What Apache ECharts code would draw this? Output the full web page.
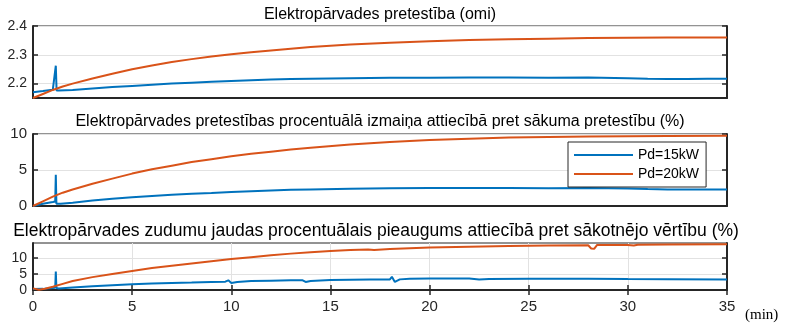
<!DOCTYPE html>
<html><head><meta charset="utf-8">
<script src="https://cdn.jsdelivr.net/npm/echarts@6/dist/echarts.min.js"></script>
<style>html,body{margin:0;padding:0;background:#fff}#c{width:787px;height:327px}</style>
</head><body><div id="c"></div>
<script>
// ---- text ----
const seriesNames = ['Pd=15kW', 'Pd=20kW'];
const panelTitles = [
  'Elektropārvades pretestība (omi)',
  'Elektropārvades pretestības procentuālā izmaiņa attiecībā pret sākuma pretestību (%)',
  'Elektropārvades zudumu jaudas procentuālais pieaugums attiecībā pret sākotnējo vērtību (%)'
];
const xUnit = '(min)';
// ---- ticks ----
const xTicks = [0, 5, 10, 15, 20, 25, 30, 35];
const rTicks = [2.2, 2.3, 2.4];
const pctTicks = [0, 5, 10];
const lossTicks = [0, 5, 10];

// ---- panel 1: resistance (ohm) ----
const tR15 = [0, 0.5, 1.0, 1.1, 1.15, 1.19, 1.3, 2, 3, 4, 5, 6, 7, 8, 9, 10, 11, 12, 13, 14, 16, 18, 20, 22, 24, 26, 28, 30, 31, 32, 33, 34, 35];
const vR15 = [2.170, 2.174, 2.179, 2.181, 2.262, 2.176, 2.176, 2.178, 2.183, 2.188, 2.192, 2.196, 2.200, 2.203, 2.206, 2.209, 2.212, 2.214, 2.216, 2.217, 2.219, 2.220, 2.220, 2.221, 2.221, 2.220, 2.221, 2.219, 2.217, 2.216, 2.216, 2.217, 2.217];
const tR20 = [0, 0.5, 1, 1.5, 2, 3, 4, 5, 6, 7, 8, 9, 10, 11, 12, 13, 14, 16, 18, 20, 22, 24, 26, 28, 30, 32, 35];
const vR20 = [2.150, 2.164, 2.178, 2.190, 2.200, 2.218, 2.234, 2.250, 2.263, 2.275, 2.285, 2.294, 2.302, 2.309, 2.315, 2.321, 2.327, 2.336, 2.342, 2.347, 2.351, 2.354, 2.356, 2.358, 2.359, 2.360, 2.360];

// ---- panel 2: resistance change (%) ----
const tP15 = [0, 0.5, 1.0, 1.12, 1.15, 1.18, 1.4, 2, 3, 4, 5, 6, 7, 8, 9, 10, 11, 12, 13, 14, 16, 18, 20, 22, 24, 26, 28, 30, 31, 32, 35];
const vP15 = [0, 0.3, 0.55, 0.62, 4.35, 0.3, 0.32, 0.45, 0.75, 1.0, 1.2, 1.4, 1.55, 1.7, 1.8, 1.95, 2.05, 2.15, 2.25, 2.3, 2.4, 2.45, 2.5, 2.5, 2.5, 2.48, 2.5, 2.42, 2.35, 2.3, 2.3];
const tP20 = [0, 0.5, 1, 1.5, 2, 3, 4, 5, 6, 7, 8, 9, 10, 11, 12, 13, 14, 16, 18, 20, 22, 24, 26, 28, 30, 32, 35];
const vP20 = [0, 0.65, 1.3, 1.85, 2.3, 3.1, 3.8, 4.5, 5.1, 5.6, 6.1, 6.5, 6.9, 7.25, 7.55, 7.85, 8.1, 8.55, 8.9, 9.15, 9.35, 9.5, 9.6, 9.65, 9.7, 9.72, 9.75];

// ---- panel 3: loss power increase (%) ----
const tL15 = [0, 0.5, 1.0, 1.12, 1.15, 1.18, 1.3, 2, 3, 4, 5, 6, 7, 8, 9, 9.7, 9.85, 10.0, 10.3, 11, 12, 13, 13.6, 13.75, 14.0, 15, 16, 17, 18, 18.1, 18.25, 18.5, 19, 20, 22, 22.5, 23, 25, 28, 30, 32, 35];
const vL15 = [0.3, 0.35, 0.6, 0.7, 5.7, 0.6, 0.5, 0.8, 1.2, 1.5, 1.8, 2.0, 2.15, 2.3, 2.5, 2.6, 3.0, 2.2, 2.5, 2.8, 2.9, 3.0, 3.0, 2.5, 2.8, 3.1, 3.2, 3.25, 3.3, 4.1, 2.5, 3.3, 3.5, 3.55, 3.55, 3.25, 3.45, 3.5, 3.5, 3.4, 3.35, 3.3];
const tL20 = [0, 0.3, 0.6, 1, 1.5, 2, 3, 4, 5, 6, 7, 8, 9, 10, 11, 12, 13, 14, 15, 16, 16.9, 17.0, 17.2, 18, 19, 20, 22, 24, 26, 28.0, 28.15, 28.3, 28.45, 30, 30.3, 30.5, 32, 35];
const vL20 = [0.5, 0.1, 0.4, 1.0, 1.9, 2.8, 4.0, 5.0, 5.9, 6.8, 7.5, 8.2, 8.9, 9.6, 10.2, 10.8, 11.3, 11.75, 12.1, 12.4, 12.6, 12.3, 12.4, 12.7, 12.95, 13.2, 13.45, 13.65, 13.8, 13.9, 12.9, 12.8, 14.0, 14.0, 13.8, 14.05, 14.1, 14.2];

// ---- build ----
const zip = (t, v) => t.map((x, i) => [x, v[i]]);
const BLUE = '#0072BD', ORANGE = '#D95319', INK = '#262626', GRIDC = '#e2e2e2';
const FONT = '"Liberation Sans", Arial, Helvetica, sans-serif';

const panels = [
  { top: 26, height: 72, min: 2.15, max: 2.4, ticks: rTicks, labelSize: 14, data: [zip(tR15, vR15), zip(tR20, vR20)] },
  { top: 134, height: 72, min: 0, max: 10, ticks: pctTicks, labelSize: 15, data: [zip(tP15, vP15), zip(tP20, vP20)] },
  { top: 243, height: 47, min: 0, max: 14.6, ticks: lossTicks, labelSize: 14, data: [zip(tL15, vL15), zip(tL20, vL20)] }
];

const grid = [], xAxis = [], yAxis = [], series = [];
const tickStyle = { color: INK, width: 1.5 };
panels.forEach((p, i) => {
  grid.push({ left: 33, right: 60, top: p.top, height: p.height, show: true, borderColor: INK, borderWidth: 1 });
  const isLast = i === panels.length - 1;
  xAxis.push({
    gridIndex: i, type: 'value', position: 'bottom', min: 0, max: 35, interval: 5,
    axisLine: { show: true, onZero: false, lineStyle: { color: INK, width: 2 } },
    axisTick: { show: isLast, inside: true, length: 5, lineStyle: tickStyle },
    axisLabel: { show: isLast, margin: 9, fontSize: 15, color: INK, fontFamily: FONT, customValues: xTicks },
    splitLine: { show: isLast, lineStyle: { color: GRIDC, width: 1 } }
  });
  if (isLast) {
    xAxis.push({
      gridIndex: i, type: 'value', position: 'top', min: 0, max: 35, interval: 5,
      axisLine: { show: false }, axisLabel: { show: false }, splitLine: { show: false },
      axisTick: { show: true, inside: true, length: 5, lineStyle: tickStyle }
    });
  }
  const leftIdx = yAxis.length;
  yAxis.push({
    gridIndex: i, type: 'value', position: 'left', min: p.min, max: p.max,
    axisLine: { show: true, onZero: false, lineStyle: { color: INK, width: 2 } },
    axisTick: { show: true, inside: true, length: 5, lineStyle: tickStyle, customValues: p.ticks },
    axisLabel: { show: true, margin: 6, fontSize: p.labelSize, color: INK, fontFamily: FONT, customValues: p.ticks },
    splitLine: { show: true, lineStyle: { color: GRIDC, width: 1 } }
  });
  yAxis.push({
    gridIndex: i, type: 'value', position: 'right', min: p.min, max: p.max,
    axisLine: { show: true, onZero: false, lineStyle: { color: INK, width: 2 } },
    axisTick: { show: true, inside: true, length: 5, lineStyle: tickStyle, customValues: p.ticks },
    axisLabel: { show: false }, splitLine: { show: false }
  });
  const xIdx = xAxis.length - (isLast ? 2 : 1);
  p.data.forEach((d, k) => {
    series.push({
      name: seriesNames[k], type: 'line', xAxisIndex: xIdx, yAxisIndex: leftIdx,
      data: d, symbol: 'none', showSymbol: false, smooth: false,
      lineStyle: { width: 2, color: k === 0 ? BLUE : ORANGE },
      itemStyle: { color: k === 0 ? BLUE : ORANGE },
      animation: false, silent: true, z: 3
    });
  });
});

const titleTops = [7, 114, 222];
const titleSizes = [16, 16, 17.5];
const title = panelTitles.map((t, i) => ({
  text: t, left: 376, top: titleTops[i], textAlign: 'center', padding: 0,
  textStyle: { fontFamily: FONT, fontSize: titleSizes[i], fontWeight: 'normal', color: '#000' }
}));
title[0].left = 380; title[1].left = 380;
title.push({ text: xUnit, left: 745, top: 308, padding: 0,
  textStyle: { fontFamily: '"Liberation Serif", "Times New Roman", serif', fontSize: 15, fontWeight: 'normal', color: '#000' } });

const chart = echarts.init(document.getElementById('c'), null, { renderer: 'canvas' });
chart.setOption({
  animation: false,
  backgroundColor: '#fff',
  title, grid, xAxis, yAxis, series,
  legend: {
    data: seriesNames.map(n => ({ name: n, icon: 'rect' })),
    orient: 'vertical', left: 568, top: 142,
    itemWidth: 59, itemHeight: 2, itemGap: 3, padding: [5, 7, 5, 6],
    borderColor: INK, borderWidth: 1, backgroundColor: '#fff',
    textStyle: { fontFamily: FONT, fontSize: 14, lineHeight: 16, color: '#000' },
    selectedMode: false
  }
});
</script></body></html>
